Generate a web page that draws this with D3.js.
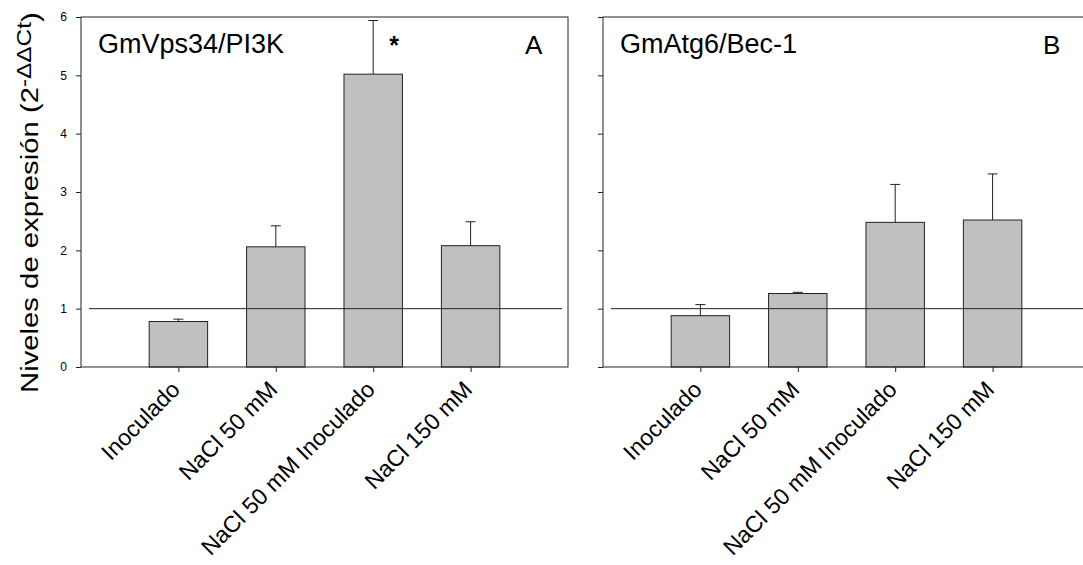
<!DOCTYPE html>
<html>
<head>
<meta charset="utf-8">
<script src="https://cdn.jsdelivr.net/npm/d3@7"></script>
<style>
  body { margin: 0; background: #fff; }
  text { font-family: "Liberation Sans", Arial, sans-serif; fill: #000; }
</style>
</head>
<body>
<div id="container"></div>
<script>
// categories shared by both panels
const categories = ["Inoculado", "NaCl 50 mM", "NaCl 50 mM Inoculado", "NaCl 150 mM"];

// panel A: GmVps34/PI3K
const valuesA = [0.78, 2.06, 5.02, 2.08];
const errorsA = [0.04, 0.36, 0.92, 0.41];

// panel B: GmAtg6/Bec-1
const valuesB = [0.88, 1.26, 2.48, 2.52];
const errorsB = [0.19, 0.02, 0.65, 0.79];

const yTicks = [0, 1, 2, 3, 4, 5, 6];
const refValue = 1;

const width = 1083, height = 565;
const plotTop = 17, plotBottom = 367;
const panelW = 487;

const svg = d3.select("#container")
  .append("svg")
  .attr("width", width)
  .attr("height", height);

const yScale = d3.scaleLinear()
  .domain([0, 6])
  .range([plotBottom, plotTop]);

function drawPanel(left, values, errors, title, letter, letterX, showLabels, star) {
  const g = svg.append("g");

  const xScale = d3.scalePoint()
    .domain(categories)
    .range([left, left + panelW])
    .padding(1);
  const step = xScale.step();
  const barW = step * 0.6;

  // bars
  g.selectAll("rect.bar")
    .data(values)
    .join("rect")
    .attr("class", "bar")
    .attr("x", (d, i) => xScale(categories[i]) - barW / 2)
    .attr("y", d => yScale(d))
    .attr("width", barW)
    .attr("height", d => plotBottom - yScale(d))
    .attr("fill", "#c0c0c0")
    .attr("stroke", "#222")
    .attr("stroke-width", 1);

  // error bars (upper only)
  g.selectAll("line.err")
    .data(values)
    .join("line")
    .attr("class", "err")
    .attr("x1", (d, i) => xScale(categories[i]))
    .attr("x2", (d, i) => xScale(categories[i]))
    .attr("y1", d => yScale(d))
    .attr("y2", (d, i) => yScale(d + errors[i]))
    .attr("stroke", "#222");
  g.selectAll("line.cap")
    .data(values)
    .join("line")
    .attr("class", "cap")
    .attr("x1", (d, i) => xScale(categories[i]) - 5)
    .attr("x2", (d, i) => xScale(categories[i]) + 5)
    .attr("y1", (d, i) => yScale(d + errors[i]))
    .attr("y2", (d, i) => yScale(d + errors[i]))
    .attr("stroke", "#222");

  // reference line at 1
  g.append("line")
    .attr("x1", left + 8)
    .attr("x2", left + panelW - 6)
    .attr("y1", yScale(refValue))
    .attr("y2", yScale(refValue))
    .attr("stroke", "#222");

  // frame
  g.append("rect")
    .attr("x", left)
    .attr("y", plotTop)
    .attr("width", panelW)
    .attr("height", plotBottom - plotTop)
    .attr("fill", "none")
    .attr("stroke", "#222");

  // y axis
  const yAxis = g.append("g")
    .attr("transform", `translate(${left},0)`)
    .call(d3.axisLeft(yScale).tickValues(yTicks).tickSize(5).tickSizeOuter(0).tickPadding(9)
      .tickFormat(showLabels ? d3.format("d") : ""));
  yAxis.select(".domain").remove();
  yAxis.selectAll("line").attr("stroke", "#222");
  yAxis.selectAll("text").style("font-size", "12px");

  // x axis
  const xAxis = g.append("g")
    .attr("transform", `translate(0,${plotBottom})`)
    .call(d3.axisBottom(xScale).tickSize(5).tickSizeOuter(0).tickFormat(""));
  xAxis.select(".domain").remove();
  xAxis.selectAll("line").attr("stroke", "#222");

  // rotated category labels
  g.selectAll("text.cat")
    .data(categories)
    .join("text")
    .attr("class", "cat")
    .attr("text-anchor", "end")
    .attr("transform", d => `translate(${xScale(d) + 3},${plotBottom + 24}) rotate(-45)`)
    .style("font-size", "23px")
    .text(d => d);

  g.append("text")
    .attr("x", left + 17)
    .attr("y", 53)
    .style("font-size", "27px")
    .text(title);

  g.append("text")
    .attr("x", letterX)
    .attr("y", 54)
    .style("font-size", "26px")
    .text(letter);

  if (star) {
    g.append("text")
      .attr("x", xScale(categories[2]) + 21)
      .attr("y", 54)
      .attr("text-anchor", "middle")
      .style("font-size", "25px")
      .style("font-weight", "bold")
      .text("*");
  }
}

drawPanel(81, valuesA, errorsA, "GmVps34/PI3K", "A", 525, true, true);
drawPanel(603, valuesB, errorsB, "GmAtg6/Bec-1", "B", 1043, false, false);

// y axis title
const yt = svg.append("text")
  .attr("transform", "translate(38,393) rotate(-90) scale(1.22,1)")
  .style("font-size", "24px");
yt.append("tspan").text("Niveles de expresión (2");
yt.append("tspan").attr("dy", "-0.35em").style("font-size", "20px").text("-ΔΔCt");
yt.append("tspan").attr("dy", "0.35em").text(")");
</script>
</body>
</html>
